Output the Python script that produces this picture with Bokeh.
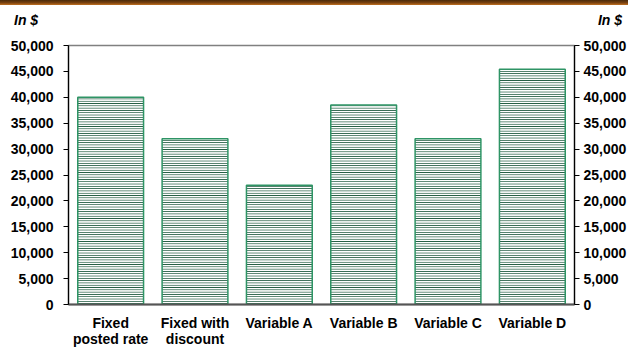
from bokeh.plotting import figure
from bokeh.models import ColumnDataSource, LinearAxis, Range1d, FactorRange, NumeralTickFormatter, Div, FixedTicker
from bokeh.layouts import column
from bokeh.embed import file_html
from bokeh.resources import INLINE

categories = ["Fixed\nposted rate", "Fixed with\ndiscount", "Variable A", "Variable B", "Variable C", "Variable D"]
values = [40000, 32000, 23000, 38500, 32000, 45400]
y_ticks = [0, 5000, 10000, 15000, 20000, 25000, 30000, 35000, 40000, 45000, 50000]
unit_label = "In $"

FONT = "Liberation Sans"

src = ColumnDataSource(dict(cat=categories, val=values))

p = figure(x_range=FactorRange(*categories, range_padding=0),
           y_range=Range1d(0, 50000),
           width=628, height=320, output_backend="svg", toolbar_location=None,
           min_border_left=68, min_border_right=54, min_border_top=17, min_border_bottom=44,
           frame_width=506, frame_height=259)
p.xgrid.visible = False
p.ygrid.visible = False
p.outline_line_color = "#808080"
p.outline_line_width = 1.5
p.background_fill_color = "white"
p.border_fill_color = None

p.vbar(x="cat", top="val", width=0.78, source=src,
       fill_color="white", line_color="#2e9465", line_width=1.5,
       hatch_pattern="horizontal_line", hatch_color="#0a4a2e", hatch_scale=2.3, hatch_weight=1.1)

ax_l = p.yaxis[0]
ax_l.ticker = FixedTicker(ticks=y_ticks)
ax_l.formatter = NumeralTickFormatter(format="0,0")
ax_r = LinearAxis(ticker=FixedTicker(ticks=y_ticks), formatter=NumeralTickFormatter(format="0,0"))
p.add_layout(ax_r, "right")
for ax in (ax_l, ax_r):
    ax.axis_line_color = "black"
    ax.axis_line_width = 1.2
    ax.major_tick_line_color = "black"
    ax.major_tick_out = 5
    ax.major_tick_in = 0
    ax.minor_tick_line_color = None
    ax.major_label_text_font = FONT
    ax.major_label_text_font_style = "bold"
    ax.major_label_text_font_size = "14px"
    ax.major_label_text_color = "black"
ax_l.major_label_standoff = 10
ax_r.major_label_standoff = 4

xa = p.xaxis[0]
xa.axis_line_color = "#555555"
xa.axis_line_width = 2
xa.major_tick_line_color = None
xa.minor_tick_line_color = None
xa.major_label_text_font = FONT
xa.major_label_text_font_style = "bold"
xa.major_label_text_font_size = "14px"
xa.major_label_text_color = "black"
xa.major_label_text_line_height = 1.0
xa.major_label_standoff = 4

label_style = ("position:absolute;top:12px;font-family:'Liberation Sans';font-weight:bold;"
               "font-style:italic;font-size:14px;color:black;line-height:16px;")
header_html = (
    '<div style="position:relative;width:628px;height:28px;margin:0;padding:0;">'
    '<div style="position:absolute;left:0;top:0;width:628px;height:5px;'
    'background:linear-gradient(#4a2a0a 0%, #7a4210 55%, #c07020 100%);"></div>'
    f'<div style="{label_style}left:14px;">{unit_label}</div>'
    f'<div style="{label_style}right:6px;text-align:right;">{unit_label}</div>'
    '</div>'
)
header = Div(text=header_html, width=628, height=28, styles={"margin": "0", "padding": "0"})

layout = column(header, p, spacing=0)
open("out.html", "w").write(file_html(layout, INLINE))
